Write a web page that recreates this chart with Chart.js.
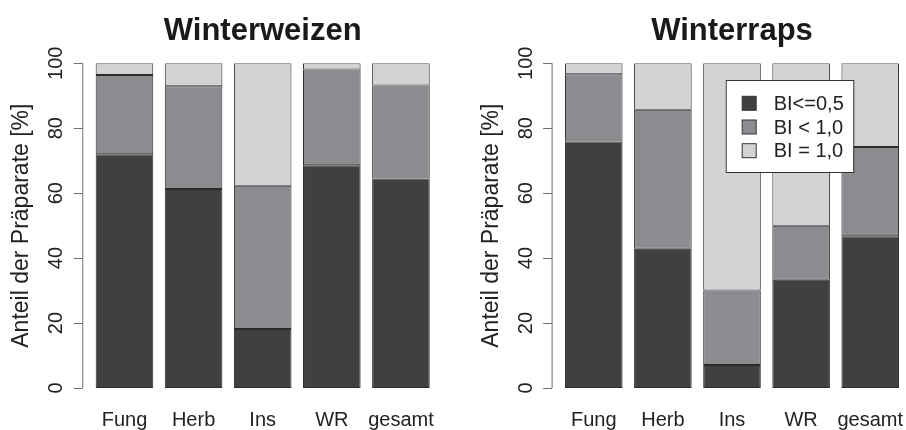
<!DOCTYPE html>
<html>
<head>
<meta charset="utf-8">
<script src="https://cdn.jsdelivr.net/npm/chart.js@4.4.1/dist/chart.umd.min.js"></script>
<style>
  html, body { margin: 0; padding: 0; background: #fff; }
  .wrap { display: flex; width: 906px; height: 430px; }
  .box { position: relative; width: 453px; height: 430px; }
</style>
</head>
<body>
<div class="wrap">
  <div class="box"><canvas id="weizenChart"></canvas></div>
  <div class="box"><canvas id="rapsChart"></canvas></div>
</div>
<script>
const categories = ['Fung', 'Herb', 'Ins', 'WR', 'gesamt'];
const seriesNames = ['BI<=0,5', 'BI < 1,0', 'BI = 1,0'];
const yTicks = [0, 20, 40, 60, 80, 100];

// Winterweizen, Anteil in %
const weizenLow = [72.0, 61.3, 18.2, 68.6, 64.5];
const weizenMid = [24.4, 31.6, 44.1, 29.5, 28.7];
const weizenHigh = [3.6, 7.1, 37.7, 1.9, 6.8];

// Winterraps, Anteil in %
const rapsLow = [75.9, 42.9, 7.1, 33.3, 46.7];
const rapsMid = [20.7, 42.8, 22.9, 16.7, 27.5];
const rapsHigh = [3.4, 14.3, 70.0, 50.0, 25.8];

const fills = ['#404040', '#8b8c90', '#d2d3d5'];
const font = 'Liberation Sans, Arial, Helvetica, sans-serif';

// R-style y axis: line left of the bars, rotated tick labels, axis title
const rAxis = {
    id: 'rAxis',
    afterDraw(chart, args, opts) {
        const ctx = chart.ctx;
        const y = chart.scales.y;
        const x = chart.scales.x;
        const pitch = x.getPixelForValue(1) - x.getPixelForValue(0);
        const ax = chart.chartArea.left - 0.11 * pitch;
        ctx.save();
        ctx.strokeStyle = '#6e6e6e';
        ctx.lineWidth = 1;
        ctx.beginPath();
        ctx.moveTo(ax + 0.5, y.getPixelForValue(0));
        ctx.lineTo(ax + 0.5, y.getPixelForValue(100));
        yTicks.forEach(t => {
            const py = Math.round(y.getPixelForValue(t)) + 0.5;
            ctx.moveTo(ax + 0.5, py);
            ctx.lineTo(ax - 8.5, py);
        });
        ctx.stroke();

        ctx.fillStyle = '#222';
        ctx.font = '20px ' + font;
        ctx.textAlign = 'center';
        ctx.textBaseline = 'alphabetic';
        yTicks.forEach(t => {
            ctx.save();
            ctx.translate(ax - 20, y.getPixelForValue(t));
            ctx.rotate(-Math.PI / 2);
            ctx.fillText(String(t), 0, 0);
            ctx.restore();
        });

        ctx.save();
        ctx.font = '23px ' + font;
        ctx.translate(ax - 54, (y.getPixelForValue(0) + y.getPixelForValue(100)) / 2);
        ctx.rotate(-Math.PI / 2);
        ctx.fillText('Anteil der Präparate [%]', 0, 0);
        ctx.restore();

        if (opts.legend) {
            const lx = chart.chartArea.right - 51.5 - 127.6;
            const ly = chart.chartArea.top + 16.7;
            ctx.fillStyle = '#fff';
            ctx.fillRect(lx, ly, 127.6, 92);
            ctx.strokeStyle = '#333';
            ctx.strokeRect(lx + 0.5, ly + 0.5, 127.6, 92);
            ctx.font = '20px ' + font;
            ctx.textAlign = 'left';
            ctx.textBaseline = 'middle';
            chart.data.datasets.forEach((ds, i) => {
                const cy = ly + 23.3 + i * 23.7;
                ctx.fillStyle = ds.backgroundColor;
                ctx.fillRect(lx + 16.5, cy - 7, 14, 14);
                ctx.strokeStyle = '#333';
                ctx.strokeRect(lx + 16.5, cy - 7, 14, 14);
                ctx.fillStyle = '#222';
                ctx.fillText(ds.label, lx + 48, cy + 1);
            });
        }
        ctx.restore();
    }
};

function makeChart(id, title, low, mid, high, padLeft, padRight, withLegend) {
    const values = [low, mid, high];
    return new Chart(document.getElementById(id), {
        type: 'bar',
        data: {
            labels: categories,
            datasets: values.map((v, i) => ({
                label: seriesNames[i],
                data: v,
                backgroundColor: fills[i],
                borderColor: '#2b2b2b',
                borderWidth: 1,
                borderSkipped: false,
                categoryPercentage: 1,
                barPercentage: 1 / 1.2
            }))
        },
        options: {
            responsive: false,
            animation: false,
            devicePixelRatio: 1,
            layout: { padding: { left: padLeft, right: padRight, top: 1.7, bottom: -22 } },
            plugins: {
                legend: { display: false },
                tooltip: { enabled: false },
                title: {
                    display: true,
                    text: title,
                    color: '#1a1a1a',
                    font: { family: font, size: 31, weight: 'bold', lineHeight: 1.2 },
                    padding: { top: 11, bottom: 13.4 }
                },
                rAxis: { legend: withLegend }
            },
            scales: {
                x: {
                    stacked: true,
                    grid: { display: false, drawTicks: false },
                    border: { display: false },
                    afterFit(scale) {
                        scale.paddingLeft = 0;
                        scale.paddingRight = 0;
                    },
                    ticks: {
                        color: '#222',
                        padding: 22,
                        autoSkip: false,
                        minRotation: 0,
                        maxRotation: 0,
                        font: { family: font, size: 20, lineHeight: 1 }
                    }
                },
                y: {
                    stacked: true,
                    display: false,
                    min: 0,
                    max: 100
                }
            }
        },
        plugins: [rAxis]
    });
}

document.getElementById('weizenChart').width = 453;
document.getElementById('weizenChart').height = 430;
document.getElementById('rapsChart').width = 453;
document.getElementById('rapsChart').height = 430;

makeChart('weizenChart', 'Winterweizen', weizenLow, weizenMid, weizenHigh, 89.9, 17.5, false);
makeChart('rapsChart', 'Winterraps', rapsLow, rapsMid, rapsHigh, 106.2, 1.2, true);
</script>
</body>
</html>
